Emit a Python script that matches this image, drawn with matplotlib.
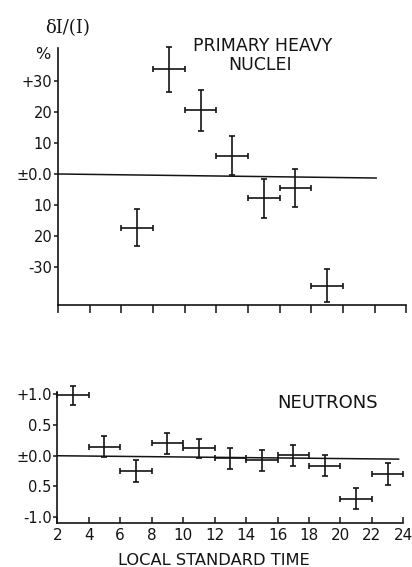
import matplotlib
matplotlib.use("Agg")
import matplotlib.pyplot as plt

# primary heavy nuclei, percent deviation
heavy_hour = [7, 9, 11, 13, 15, 17, 19]
heavy_val = [-17.3, 33.8, 20.5, 5.9, -7.9, -4.6, -36.0]
heavy_err = [6.0, 7.3, 6.7, 6.2, 6.3, 6.2, 5.4]
heavy_zero = ([2, 22.1], [0.0, -1.3])
heavy_ticks = [30, 20, 10, 0, -10, -20, -30]
heavy_ticklabels = ["+30", "20", "10", "±0.0", "10", "20", "-30"]

# neutrons, percent deviation
neut_hour = [3, 5, 7, 9, 11, 13, 15, 17, 19, 21, 23]
neut_val = [0.98, 0.15, -0.25, 0.20, 0.12, -0.04, -0.07, 0.01, -0.16, -0.70, -0.30]
neut_err = [0.16, 0.17, 0.18, 0.17, 0.16, 0.17, 0.17, 0.17, 0.17, 0.17, 0.18]
neut_zero = ([2, 23.7], [0.0, -0.055])
neut_ticks = [1.0, 0.5, 0.0, -0.5, -1.0]
neut_ticklabels = ["+1.0", "0.5", "±0.0", "0.5", "-1.0"]

hour_ticks = list(range(2, 25, 2))
hour_halfwidth = 1.0

ink = "#141414"
fig = plt.figure(figsize=(4.12, 5.67), dpi=100)

ax1 = fig.add_axes([0.141, 0.462, 0.845, 0.453])
ax2 = fig.add_axes([0.139, 0.078, 0.840, 0.231])

for ax in (ax1, ax2):
    for s in ("top", "right"):
        ax.spines[s].set_visible(False)
    for s in ("left", "bottom"):
        ax.spines[s].set_linewidth(1.2)
        ax.spines[s].set_color(ink)
    ax.set_xlim(2, 24)
    ax.set_xticks(hour_ticks)

# top panel
ax1.errorbar(heavy_hour, heavy_val, yerr=heavy_err, xerr=hour_halfwidth,
             fmt="none", ecolor=ink, elinewidth=1.2, capsize=2.5,
             capthick=1.2, clip_on=False)
ax1.plot(heavy_zero[0], heavy_zero[1], color=ink, lw=1.1)
ax1.set_ylim(-42.3, 40.6)
ax1.set_yticks(heavy_ticks)
ax1.set_yticklabels(heavy_ticklabels)
ax1.set_xticklabels([])
ax1.tick_params(axis="x", direction="out", length=6, width=1.1, color=ink)
ax1.tick_params(axis="y", direction="out", length=3, width=1.1, pad=1,
                labelsize=10.5, color=ink, labelcolor=ink)

# bottom panel
ax2.errorbar(neut_hour, neut_val, yerr=neut_err, xerr=hour_halfwidth,
             fmt="none", ecolor=ink, elinewidth=1.2, capsize=2.5,
             capthick=1.2, clip_on=False)
ax2.plot(neut_zero[0], neut_zero[1], color=ink, lw=1.1)
ax2.set_ylim(-1.09, 1.04)
ax2.set_yticks(neut_ticks)
ax2.set_yticklabels(neut_ticklabels)
ax2.tick_params(axis="x", direction="in", length=4, width=1.1, pad=4,
                labelsize=11, color=ink, labelcolor=ink)
ax2.tick_params(axis="y", direction="out", length=3, width=1.1, pad=1,
                labelsize=10.5, color=ink, labelcolor=ink)

# texts
fig.text(0.109, 0.951, "δI/(I)", fontsize=13, family="DejaVu Serif",
         ha="left", va="center", color=ink)
fig.text(0.085, 0.904, "%", fontsize=11.5, ha="left", va="center", color=ink)
fig.text(0.638, 0.919, "PRIMARY HEAVY", fontsize=12.5, ha="center",
         va="center", color=ink)
fig.text(0.632, 0.886, "NUCLEI", fontsize=12.5, ha="center", va="center",
         color=ink)
fig.text(0.794, 0.289, "NEUTRONS", fontsize=13, ha="center", va="center",
         color=ink)
fig.text(0.52, 0.011, "LOCAL STANDARD TIME", fontsize=11.7, ha="center",
         va="center", color=ink)

fig.savefig("out.png", dpi=100)
